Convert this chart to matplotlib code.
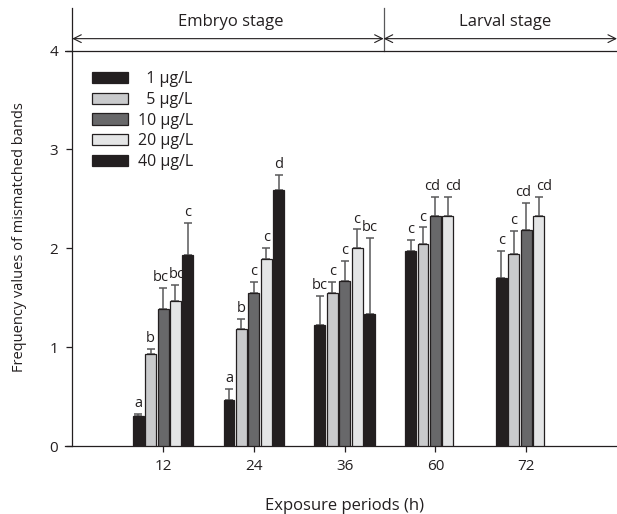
import numpy as np
import matplotlib
matplotlib.use("Agg")
import matplotlib.pyplot as plt

plt.rcParams['font.family'] = ['Open Sans', 'DejaVu Sans']

periods = ['12', '24', '36', '60', '72']
concentrations = ['1 µg/L', '5 µg/L', '10 µg/L', '20 µg/L', '40 µg/L']
legend_labels = ['  1 µg/L', '  5 µg/L', '10 µg/L', '20 µg/L', '40 µg/L']

# mean values per concentration across exposure periods
values_1 = [0.30, 0.47, 1.22, 1.97, 1.70]
values_5 = [0.93, 1.18, 1.55, 2.04, 1.94]
values_10 = [1.39, 1.55, 1.67, 2.33, 2.18]
values_20 = [1.47, 1.89, 2.00, 2.33, 2.33]
values_40 = [1.93, 2.59, 1.34, np.nan, np.nan]

# upper error (SD)
err_1 = [0.02, 0.11, 0.30, 0.11, 0.27]
err_5 = [0.05, 0.10, 0.11, 0.17, 0.23]
err_10 = [0.21, 0.11, 0.20, 0.19, 0.28]
err_20 = [0.16, 0.11, 0.19, 0.19, 0.19]
err_40 = [0.33, 0.15, 0.76, np.nan, np.nan]

letters_1 = ['a', 'a', 'bc', 'c', 'c']
letters_5 = ['b', 'b', 'c', 'c', 'c']
letters_10 = ['bc', 'c', 'c', 'cd', 'cd']
letters_20 = ['bc', 'c', 'c', 'cd', 'cd']
letters_40 = ['c', 'd', 'bc', '', '']

stages = ['Embryo stage', 'Larval stage']

values = [values_1, values_5, values_10, values_20, values_40]
errors = [err_1, err_5, err_10, err_20, err_40]
letters = [letters_1, letters_5, letters_10, letters_20, letters_40]
colors = ['#231f20', '#c9cacc', '#68686a', '#e4e5e6', '#231f20']

# horizontal nudges (in x units) of the significance letters, layout only
label_dx = [[0, 0, 0, 0, 0],
            [0, 0, 0, 0, 0],
            [-0.025, 0, 0, -0.035, -0.035],
            [0.015, 0, 0, 0.06, 0.065],
            [0, 0, 0, 0, 0]]

fig = plt.figure(figsize=(6.17, 5.14), dpi=100)
ax = fig.add_axes([65/617, 68/514, 552/617, 438/514])

x = np.arange(1, len(periods) + 1)
slot = 0.137
width = 0.12
dark = '#231f20'

for i, (vals, errs, lets, col) in enumerate(zip(values, errors, letters, colors)):
    xs = x + (i - 2) * slot
    ax.bar(xs, vals, width=width, color=col, edgecolor=dark, linewidth=0.9,
           label=legend_labels[i], zorder=3)
    ax.errorbar(xs, vals, yerr=[np.zeros(len(vals)), errs], fmt='none',
                ecolor='#58585a', elinewidth=1.1, capsize=3.0, capthick=1.1,
                zorder=2)
    for j, (xx, v, e, t) in enumerate(zip(xs, vals, errs, lets)):
        if t and not np.isnan(v):
            ax.text(xx + label_dx[i][j], v + e + 0.03, t, ha='center',
                    va='bottom', fontsize=10.5, color=dark, zorder=1)

ax.set_xlim(-0.08, 6.0)
ax.set_ylim(0, 4.43)
ax.set_xticks(x)
ax.set_xticklabels(periods)
ax.set_yticks([0, 1, 2, 3, 4])
ax.spines['left'].set_position(('data', 0))
for s in ['top', 'right']:
    ax.spines[s].set_visible(False)
for s in ['left', 'bottom']:
    ax.spines[s].set_color(dark)
    ax.spines[s].set_linewidth(0.9)
ax.tick_params(axis='both', direction='out', length=4, width=0.9, color=dark,
               labelsize=11, labelcolor=dark)
ax.tick_params(axis='y', pad=6)
ax.tick_params(axis='x', pad=5)

ax.axhline(4, color=dark, linewidth=0.9, zorder=4)

ax.set_xlabel('Exposure periods (h)', fontsize=12, color=dark)
ax.xaxis.set_label_coords((3 + 0.08) / 6.08, -0.118)
ax.set_ylabel('Frequency values of mismatched bands', fontsize=10.5, color=dark)
ax.yaxis.set_label_coords(-0.068, 0.477)

# stage annotations
div = 3.43
ax.plot([div, div], [4, 4.43], color='#58585a', linewidth=0.9, clip_on=False)
arrow_kw = dict(arrowstyle='<->', color=dark, linewidth=0.8,
                mutation_scale=14, shrinkA=0, shrinkB=0)
ax.annotate('', xy=(0, 4.12), xytext=(div, 4.12), arrowprops=arrow_kw,
            annotation_clip=False)
ax.annotate('', xy=(div, 4.12), xytext=(6.0, 4.12), arrowprops=arrow_kw,
            annotation_clip=False)
ax.text(div / 2 + 0.03, 4.29, stages[0], ha='center', va='center', fontsize=12,
        color=dark)
ax.text((div + 6.0) / 2 + 0.05, 4.29, stages[1], ha='center', va='center',
        fontsize=12, color=dark)

leg = ax.legend(loc='upper left', bbox_to_anchor=(92/617, 1 - 71/514),
                bbox_transform=fig.transFigure, frameon=False, fontsize=11.5,
                handlelength=2.25, handleheight=0.69, handletextpad=0.6,
                labelspacing=0.3, borderpad=0, borderaxespad=0)
for t in leg.get_texts():
    t.set_color(dark)

fig.savefig('out.png', dpi=100)
